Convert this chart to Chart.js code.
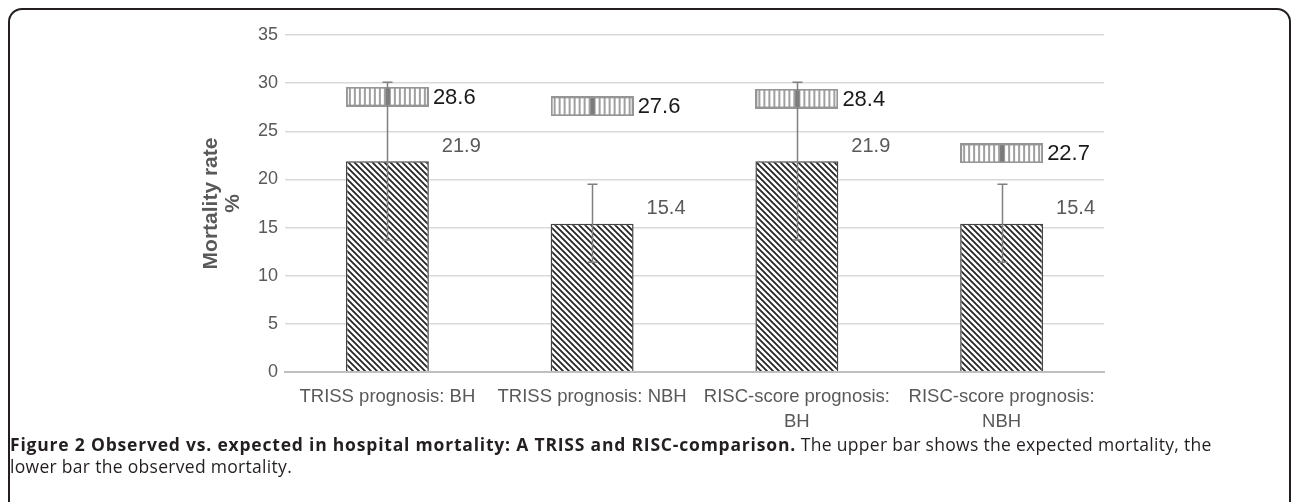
<!DOCTYPE html>
<html><head><meta charset="utf-8">
<script src="https://cdn.jsdelivr.net/npm/chart.js@4.4.1/dist/chart.umd.min.js"></script>
<style>
html,body{margin:0;padding:0;background:#fff;width:1292px;height:502px;overflow:hidden;position:relative;}
#frame{position:absolute;left:8px;top:8px;width:1283px;height:700px;border:2px solid #231f20;border-radius:14px;box-sizing:border-box;}
#wrap{position:absolute;left:0;top:0;width:1292px;height:440px;}
#caption{position:absolute;left:10px;top:433px;width:1275px;font-family:'Open Sans',sans-serif;font-size:17.5px;line-height:22px;color:#231f20;white-space:nowrap;letter-spacing:0.3px;}
#caption b{font-weight:700;letter-spacing:0.8px;}
</style></head>
<body>
<div id="frame"></div>
<div id="wrap"><canvas id="c" width="1292" height="440"></canvas></div>
<div id="caption"><b>Figure 2 Observed vs. expected in hospital mortality: A TRISS and RISC-comparison.</b> The upper bar shows the expected mortality, the<br>lower bar the observed mortality.</div>
<script>
const categories = ["TRISS prognosis: BH", "TRISS prognosis: NBH", ["RISC-score prognosis:", "BH"], ["RISC-score prognosis:", "NBH"]];
const observed = [21.9, 15.4, 21.9, 15.4];
const observedLow = [13.7, 11.4, 13.7, 11.4];
const observedHigh = [30.1, 19.5, 30.1, 19.5];
const expected = [28.6, 27.6, 28.4, 22.7];
const yTickValues = [0, 5, 10, 15, 20, 25, 30, 35];

const FONT = 'Liberation Sans';
const BOX_W = 83, BOX_H = 20;

function hatchPattern() {
  const s = 6;
  const c = document.createElement('canvas'); c.width = s; c.height = s;
  const g = c.getContext('2d');
  g.fillStyle = '#ffffff'; g.fillRect(0, 0, s, s);
  g.strokeStyle = '#262626'; g.lineWidth = 1.8;
  g.beginPath();
  for (let k = -1; k <= 1; k++) { g.moveTo(k * s - 1, -1); g.lineTo(k * s + s + 1, s + 1); }
  g.stroke();
  return g.createPattern(c, 'repeat');
}
function boxImage() {
  const w = BOX_W, h = BOX_H;
  const c = document.createElement('canvas'); c.width = w; c.height = h;
  const g = c.getContext('2d');
  g.fillStyle = '#ffffff'; g.fillRect(0, 0, w, h);
  g.fillStyle = '#a0a0a0';
  for (let x = 3; x < w - 3; x += 5) g.fillRect(x, 1, 2, h - 2);
  g.fillStyle = '#7a7a7a'; g.fillRect(Math.round(w / 2) - 2, 1, 4, h - 2);
  g.strokeStyle = '#959595'; g.lineWidth = 2; g.strokeRect(1, 1, w - 2, h - 2);
  return c;
}

const overlay = {
  id: 'overlay',
  afterDatasetsDraw(chart) {
    const ctx = chart.ctx, ys = chart.scales.y;
    const ptMeta = chart.getDatasetMeta(0), barMeta = chart.getDatasetMeta(1);
    ctx.save();
    ctx.strokeStyle = '#808080'; ctx.lineWidth = 1.5;
    barMeta.data.forEach((b, i) => {
      const x = Math.round(b.x) + 0.5;
      const y1 = ys.getPixelForValue(observedLow[i]), y2 = ys.getPixelForValue(observedHigh[i]);
      ctx.beginPath();
      ctx.moveTo(x, y1); ctx.lineTo(x, y2);
      ctx.moveTo(x - 5, y1); ctx.lineTo(x + 5, y1);
      ctx.moveTo(x - 5, y2); ctx.lineTo(x + 5, y2);
      ctx.stroke();
    });
    ctx.textAlign = 'left'; ctx.textBaseline = 'middle';
    ctx.font = '22px "' + FONT + '"'; ctx.fillStyle = '#1a1a1a';
    ptMeta.data.forEach((p, i) => { ctx.fillText(expected[i].toFixed(1), p.x + BOX_W / 2 + 4, p.y + 1); });
    ctx.font = '20px "' + FONT + '"'; ctx.fillStyle = '#595959';
    barMeta.data.forEach((b, i) => { ctx.fillText(observed[i].toFixed(1), b.x + b.width / 2 + 13, b.y - 15); });
    ctx.restore();
  }
};

new Chart(document.getElementById('c'), {
  type: 'bar',
  data: {
    labels: categories,
    datasets: [
      { type: 'line', label: 'Expected', data: expected, showLine: false, pointStyle: boxImage(), pointRadius: 10, order: 0 },
      { type: 'bar', label: 'Observed', data: observed, backgroundColor: hatchPattern(), borderColor: '#444444', borderWidth: 1.5,
        categoryPercentage: 0.5, barPercentage: 0.81, order: 1 }
    ]
  },
  options: {
    responsive: false, animation: false, devicePixelRatio: 1,
    layout: { padding: { left: 0, right: 188, top: 35, bottom: 0 } },
    plugins: { legend: { display: false }, tooltip: { enabled: false } },
    scales: {
      x: {
        grid: { display: false, drawTicks: false },
        border: { display: true, color: '#bfbfbf', width: 2 },
        ticks: { color: '#595959', font: { family: FONT, size: 18.5, lineHeight: 1.33 }, padding: 13, maxRotation: 0, autoSkip: false },
        afterFit(s) { s.height = 68; }
      },
      y: {
        min: 0, max: 35,
        afterBuildTicks(s) { s.ticks = yTickValues.map(v => ({ value: v })); },
        ticks: { color: '#595959', font: { family: FONT, size: 18 }, padding: 7 },
        grid: {
          drawTicks: false,
          color: c => (c.tick && c.tick.value === 0) ? '#bfbfbf' : '#d9d9d9',
          lineWidth: c => (c.tick && c.tick.value === 0) ? 2 : 1.5
        },
        border: { display: false },
        title: { display: true, text: ['Mortality rate', '%'], color: '#595959',
          font: { family: FONT, size: 21, weight: 'bold', lineHeight: 1.05 }, padding: { top: 200, bottom: 0 } },
        afterFit(s) { s.width = 285; }
      }
    }
  },
  plugins: [overlay]
});
</script>
</body></html>
